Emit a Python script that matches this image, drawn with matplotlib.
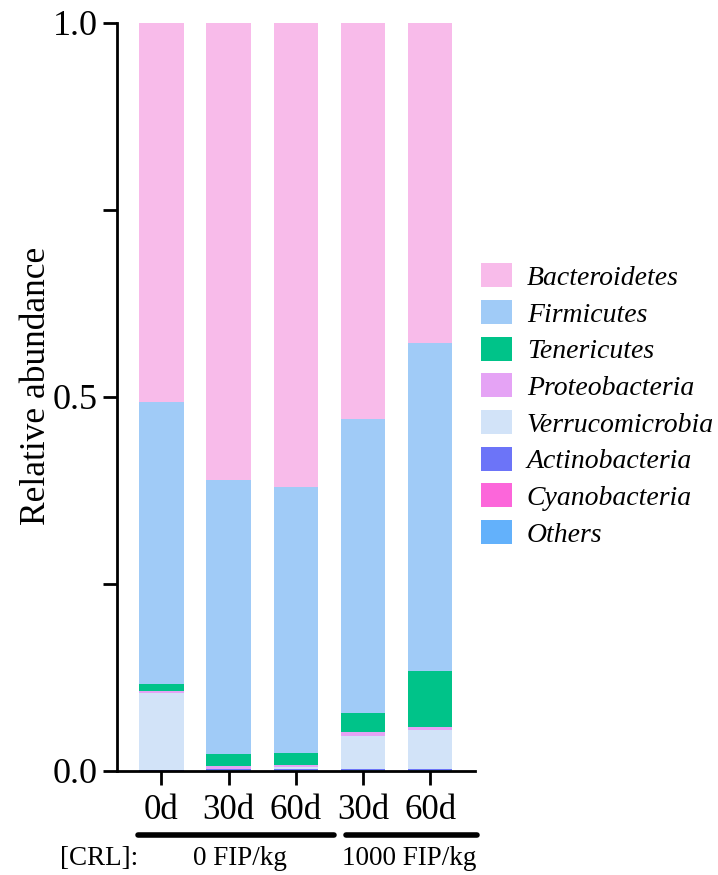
import numpy as np
import matplotlib.pyplot as plt
from matplotlib.patches import Patch
from matplotlib.ticker import MultipleLocator

plt.rcParams['font.family'] = ['Liberation Serif', 'DejaVu Serif']

groups = ['0d', '30d', '60d', '30d', '60d']

# stacked from bottom to top
phyla = ['Others', 'Cyanobacteria', 'Actinobacteria', 'Verrucomicrobia',
         'Proteobacteria', 'Tenericutes', 'Firmicutes', 'Bacteroidetes']
others = [0.000, 0.001, 0.001, 0.001, 0.001]
cyano = [0.000, 0.000, 0.000, 0.000, 0.000]
actino = [0.001, 0.001, 0.001, 0.001, 0.001]
verruco = [0.103, 0.001, 0.003, 0.045, 0.052]
proteo = [0.003, 0.003, 0.003, 0.005, 0.005]
teneri = [0.009, 0.017, 0.016, 0.026, 0.074]
firmi = [0.377, 0.366, 0.356, 0.393, 0.439]
bactero = [0.507, 0.611, 0.620, 0.529, 0.428]
series = [others, cyano, actino, verruco, proteo, teneri, firmi, bactero]
colors = ['#63b1fb', '#fc66da', '#6c74f8', '#d2e3f8',
          '#e5a3f5', '#00c389', '#a0cbf7', '#f8bbea']

fig = plt.figure(figsize=(7.18, 8.75), dpi=100)
ax = fig.add_axes([0.163, 0.119, 0.499, 0.855])

x = np.arange(len(groups))
bottom = np.zeros(len(groups))
for vals, c in zip(series, colors):
    ax.bar(x, vals, width=0.66, bottom=bottom, color=c, linewidth=0)
    bottom += np.array(vals)

ax.set_xlim(-0.66, 4.67)
ax.set_ylim(0, 1)
ax.set_yticks([0, 0.5, 1.0])
ax.set_yticklabels(['0.0', '0.5', '1.0'])
ax.yaxis.set_minor_locator(MultipleLocator(0.25))
ax.set_xticks(x)
ax.set_xticklabels(groups)
ax.tick_params(axis='y', labelsize=26, width=2, length=10, pad=4)
ax.tick_params(axis='y', which='minor', width=2, length=10)
ax.tick_params(axis='x', labelsize=25, width=2, length=10, pad=7)
for s in ['top', 'right']:
    ax.spines[s].set_visible(False)
for s in ['left', 'bottom']:
    ax.spines[s].set_linewidth(2)
ax.set_ylabel('Relative abundance', fontsize=25.5)
ax.yaxis.set_label_coords(-0.18, 0.515)

# treatment group bars under the tick labels
trans = ax.get_xaxis_transform()
ax.plot([-0.35, 2.57], [-0.086, -0.086], color='black', lw=4,
        solid_capstyle='round', transform=trans, clip_on=False)
ax.plot([2.75, 4.7], [-0.086, -0.086], color='black', lw=4,
        solid_capstyle='round', transform=trans, clip_on=False)
ax.text(1.17, -0.117, '0 FIP/kg', ha='center', va='center', fontsize=19.5,
        transform=trans)
ax.text(3.69, -0.117, '1000 FIP/kg', ha='center', va='center', fontsize=19.5,
        transform=trans)
ax.text(-0.92, -0.117, '[CRL]:', ha='center', va='center', fontsize=19.5,
        transform=trans)

handles = [Patch(facecolor=c, label=p) for p, c in zip(phyla, colors)][::-1]
leg = fig.legend(handles=handles, loc='center left',
                 bbox_to_anchor=(481 / 718, 1 - 405.5 / 875),
                 frameon=False, handlelength=1.1, handleheight=0.95,
                 labelspacing=0.33, handletextpad=0.55, borderaxespad=0,
                 borderpad=0, prop={'style': 'italic', 'size': 20})

fig.savefig('out.png', dpi=100)
